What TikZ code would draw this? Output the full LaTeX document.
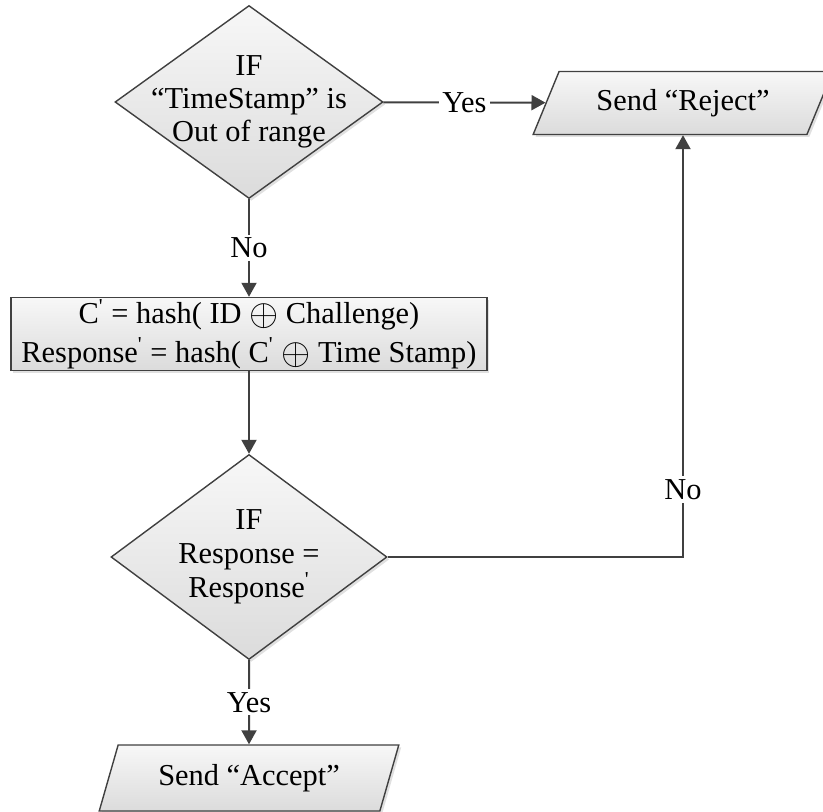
\documentclass[tikz,border=0pt]{standalone}
\usepackage{fontspec}
\setmainfont{Liberation Serif}
\usetikzlibrary{%
  arrows.meta,%
  shapes.geometric,% wg. diamond, trapezium
  shadows,%
  positioning%
}
\newcommand{\prm}{\textsuperscript{\textquotesingle}}
\newcommand{\xor}{\raisebox{-0.15ex}{\scalebox{1.3}{$\oplus$}}}
\newcommand{\ctext}[1]{\makebox[0pt]{\begin{tabular}{@{}c@{}}#1\end{tabular}}}

\begin{document}
\begin{tikzpicture}[
  x=0.5pt, y=-0.5pt,
  font=\fontsize{15.2}{16.6}\selectfont, >={Triangle[length=7pt,width=7.5pt]},
  decision/.style={diamond, aspect=1.4, inner sep=0pt, minimum width=134pt, minimum height=96.5pt, draw=black!75, line width=0.7pt, top color=black!3, bottom color=black!14, drop shadow={shadow xshift=1.2pt, shadow yshift=-1.2pt, fill=black!20, opacity=0.6}},
  process/.style={rectangle, align=center, minimum height=36pt, minimum width=238pt, inner sep=1pt, draw=black!75, line width=0.7pt, top color=black!3, bottom color=black!14, drop shadow={shadow xshift=1.2pt, shadow yshift=-1.2pt, fill=black!20, opacity=0.6}},
  inout/.style={trapezium, trapezium left angle=64.5, trapezium right angle=115.5, trapezium stretches, minimum width=150pt, minimum height=31.5pt, draw=black!75, line width=0.7pt, top color=black!3, bottom color=black!14, drop shadow={shadow xshift=1.2pt, shadow yshift=-1.2pt, fill=black!20, opacity=0.6}},
  flow/.style={->, draw=black!75, line width=1pt},
  tag/.style={fill=white, inner sep=1.5pt}
]
\useasboundingbox (0,0) rectangle (823,812);

\node[decision] (iftime) at (249,102) {\ctext{IF\\“TimeStamp” is\\Out of range}};
\node[inout] (reject) at (683,103) {Send “Reject”};
\node[process] (hash) at (249,334) {C\prm{} = hash( ID \xor{} Challenge)\\[2.5pt]Response\prm{} = hash( C\prm{} \xor{} Time Stamp)};
\node[decision, minimum width=138pt, minimum height=102.5pt] (ifresp) at (249,557) {\ctext{IF\\Response =\\Response\prm}};
\node[inout, trapezium left angle=71, trapezium right angle=109, minimum height=33pt] (accept) at (249,778) {Send “Accept”};

\draw[flow] (iftime) -- node[tag] {Yes} (reject);
\draw[flow] (iftime) -- node[tag] {No} (hash);
\draw[flow] (hash) -- (ifresp);
\draw[flow] (ifresp.east) -| node[tag, pos=0.58] {No} (reject);
\draw[flow] (ifresp) -- node[tag] {Yes} (accept);
\end{tikzpicture}
\end{document}
